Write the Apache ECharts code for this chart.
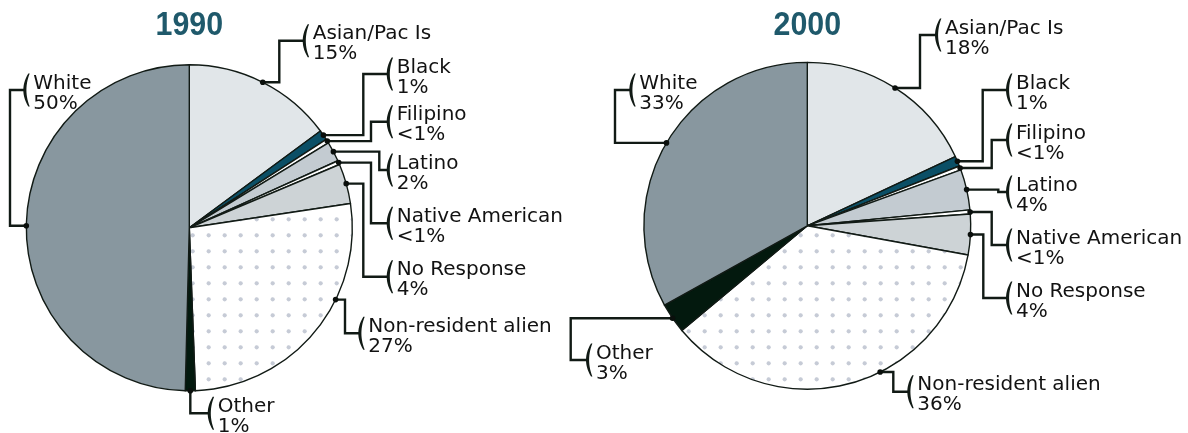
<!DOCTYPE html>
<html>
<head>
<meta charset="utf-8">
<script src="https://cdn.jsdelivr.net/npm/echarts@6/dist/echarts.min.js"></script>
<style>
  html, body { margin: 0; padding: 0; background: #ffffff; }
  #chart { width: 1188px; height: 433px; }
</style>
</head>
<body>
<div id="chart"></div>
<script>
// Enrollment by ethnicity, share of total (%)
const categories = ['Asian/Pac Is', 'Black', 'Filipino', 'Latino', 'Native American',
  'No Response', 'Non-resident alien', 'Other', 'White'];
const years = ['1990', '2000'];
const share1990 = [15, 1, 0.4, 2, 0.4, 4, 27, 1, 50];
const share2000 = [18, 1, 0.4, 4, 0.4, 4, 36, 3, 33];

const pctLabel = v => (v < 1 ? '<1%' : v + '%');

// ---- styling / layout ----
const INK = '#111a15';
const TITLE_COLOR = '#1f596b';

function dotPattern() {
  const c = document.createElement('canvas');
  c.width = 16; c.height = 16;
  const g = c.getContext('2d');
  g.fillStyle = '#fff';
  g.fillRect(0, 0, 16, 16);
  g.fillStyle = '#c6cbd6';
  for (const dx of [0, 16]) {
    g.beginPath();
    g.arc(0.7 + dx, 11.3, 2.1, 0, Math.PI * 2);
    g.fill();
  }
  return c;
}

const sliceFills = ['#e1e6e9', '#0b4f66', '#ffffff', '#c3cbd1', '#ffffff',
  '#cdd3d6', { image: dotPattern(), repeat: 'repeat' }, '#03190e', '#88979f'];

const pieGeom = [
  { center: [189.3, 227.8], radius: 163 },
  { center: [807.3, 225.8], radius: 163.4 }
];

// per label: [text x, leader y at bracket, elbow x (null = straight from anchor), anchor position inside slice]
const labelLayout = [
  [
    [312.7, 40.7, 279.3, 0.5],
    [396.7, 74, 363.3, 0.5],
    [396.7, 121.7, 371, 0.5],
    [396.7, 170, 379.3, 0.5],
    [396.7, 223.3, 371, 0.5],
    [396.7, 276.7, 363.3, 0.5],
    [368.3, 333.3, 345, 0.36],
    [217.7, 413.3, null, 0.5],
    [33.3, 90, 10, 0.5]
  ],
  [
    [945, 35, 920, 0.5],
    [1016, 90, 982.7, 0.5],
    [1016, 140, 991.7, 0.5],
    [1016, 192, 998.3, 0.5],
    [1016, 245, 991.7, 0.5],
    [1016, 298, 983.3, 0.5],
    [917.3, 391.7, 893.3, 0.41],
    [596, 360, 570.7, 0.5],
    [639.3, 90, 615, 0.5]
  ]
];

const shares = [share1990, share2000];

const chart = echarts.init(document.getElementById('chart'), null, { renderer: 'canvas' });

const series = shares.map((vals, k) => ({
  type: 'pie',
  name: years[k],
  center: pieGeom[k].center,
  radius: pieGeom[k].radius,
  startAngle: 90,
  clockwise: true,
  avoidLabelOverlap: false,
  silent: true,
  animation: false,
  label: { show: false },
  labelLine: { show: false },
  emphasis: { disabled: true },
  itemStyle: { borderColor: INK, borderWidth: 1.4 },
  data: categories.map((name, i) => ({
    name: name,
    value: vals[i],
    itemStyle: { color: sliceFills[i] }
  }))
}));

chart.setOption({
  backgroundColor: '#ffffff',
  animation: false,
  series: series
});

// leader lines, brackets and labels anchored on the rendered slices
function bracketPoints(x0, midY) {
  const top = midY - 16.5, bot = midY + 16.5, n = 14;
  const outer = [], inner = [];
  for (let j = 0; j <= n; j++) {
    const t = j / n;
    const y = (1 - t) * (1 - t) * top + 2 * t * (1 - t) * midY + t * t * bot;
    const xo = (1 - t) * (1 - t) * (x0 + 5) + 2 * t * (1 - t) * (x0 - 5) + t * t * (x0 + 5);
    const xi = (1 - t) * (1 - t) * (x0 + 6.4) + 2 * t * (1 - t) * (x0 - 0.2) + t * t * (x0 + 6.4);
    outer.push([xo, y]);
    inner.unshift([xi, y]);
  }
  return outer.concat(inner);
}

const elements = [];
shares.forEach((vals, k) => {
  const data = chart.getModel().getSeriesByIndex(k).getData();
  const cx = pieGeom[k].center[0];
  elements.push({
    type: 'text', z: 100, silent: true,
    x: cx, y: 9, scaleX: 0.92,
    style: {
      text: years[k], x: 0, y: 0, align: 'center', verticalAlign: 'top',
      font: 'bold 33px "Liberation Sans", Arial, sans-serif', fill: TITLE_COLOR
    }
  });
  categories.forEach((name, i) => {
    const lay = data.getItemLayout(i);
    const [tx, ly, ex, frac] = labelLayout[k][i];
    const a = lay.startAngle + (lay.endAngle - lay.startAngle) * frac;
    const ax = lay.cx + lay.r * Math.cos(a);
    const ay = lay.cy + lay.r * Math.sin(a);
    const bx = tx - 10;
    const elbow = ex == null ? ax : ex;
    elements.push({
      type: 'polyline', z: 100, silent: true,
      shape: { points: [[ax, ay], [elbow, ay], [elbow, ly], [bx + 1, ly]] },
      style: { stroke: INK, lineWidth: 2.4, fill: null, lineJoin: 'miter' }
    });
    elements.push({
      type: 'circle', z: 101, silent: true,
      shape: { cx: ax, cy: ay, r: 2.8 },
      style: { fill: '#0a0f0c' }
    });
    elements.push({
      type: 'polygon', z: 100, silent: true,
      shape: { points: bracketPoints(bx, ly) },
      style: { fill: INK }
    });
    elements.push({
      type: 'text', z: 100, silent: true,
      x: tx, y: ly - 16.6,
      style: {
        text: name + '\n' + pctLabel(vals[i]), x: 0, y: 0,
        align: 'left', verticalAlign: 'top', lineHeight: 20,
        font: '20px "DejaVu Sans", sans-serif', fill: '#121212'
      }
    });
  });
});

chart.setOption({ graphic: { elements: elements } });
</script>
</body>
</html>
